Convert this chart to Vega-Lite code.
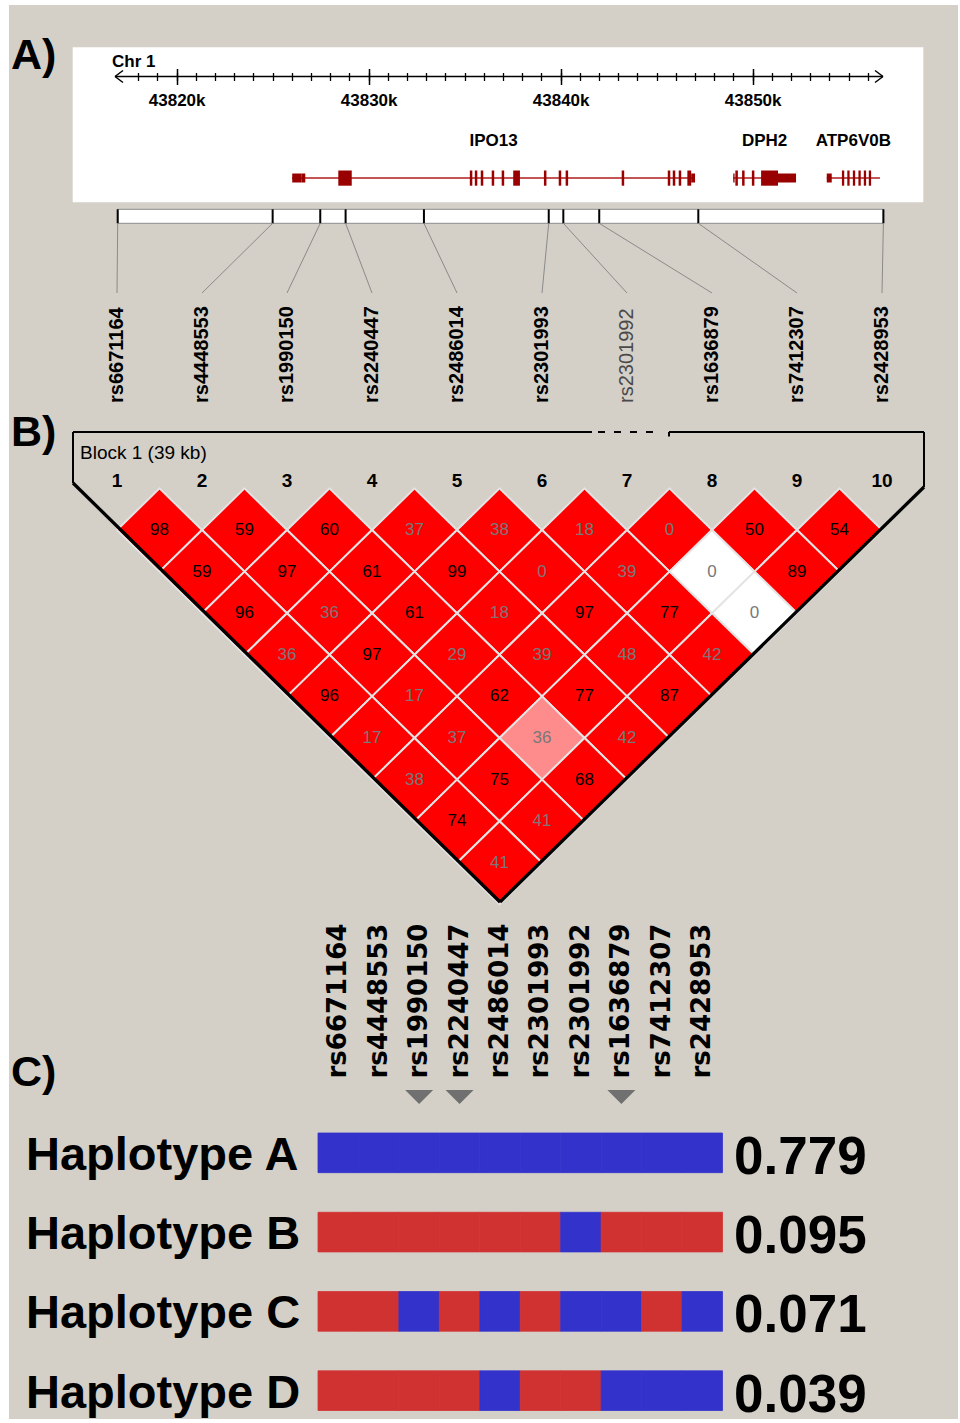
{
"$schema":"https://vega.github.io/schema/vega-lite/v6.json",
"width":960,"height":1423,"padding":0,"autosize":{"type":"none"},
"background":"#ffffff",
"config":{"view":{"stroke":null}},
"datasets":{
"snps":[
{"idx":1,"snp":"rs6671164","pos":43816.93,"status":"pass","tag":false},
{"idx":2,"snp":"rs4448553","pos":43825.00,"status":"pass","tag":false},
{"idx":3,"snp":"rs1990150","pos":43827.48,"status":"pass","tag":true},
{"idx":4,"snp":"rs2240447","pos":43828.80,"status":"pass","tag":true},
{"idx":5,"snp":"rs2486014","pos":43832.88,"status":"pass","tag":false},
{"idx":6,"snp":"rs2301993","pos":43839.38,"status":"pass","tag":false},
{"idx":7,"snp":"rs2301992","pos":43840.14,"status":"flag","tag":false},
{"idx":8,"snp":"rs1636879","pos":43842.01,"status":"pass","tag":true},
{"idx":9,"snp":"rs7412307","pos":43847.17,"status":"pass","tag":false},
{"idx":10,"snp":"rs2428953","pos":43856.81,"status":"pass","tag":false}],
"genes":[
{"gene":"IPO13","start":43826.01,"end":43847.00},
{"gene":"DPH2","start":43848.99,"end":43852.26},
{"gene":"ATP6V0B","start":43853.86,"end":43856.63}],
"genefeat":[
{"gene":"IPO13","part":"utr","start":43826.02,"end":43826.51},
{"gene":"IPO13","part":"utr","start":43826.51,"end":43826.70},
{"gene":"IPO13","part":"cds","start":43828.42,"end":43829.12},
{"gene":"IPO13","part":"cds","start":43835.27,"end":43835.40},
{"gene":"IPO13","part":"cds","start":43835.53,"end":43835.66},
{"gene":"IPO13","part":"cds","start":43835.84,"end":43835.97},
{"gene":"IPO13","part":"cds","start":43836.41,"end":43836.54},
{"gene":"IPO13","part":"cds","start":43836.93,"end":43837.06},
{"gene":"IPO13","part":"cds","start":43837.53,"end":43837.88},
{"gene":"IPO13","part":"cds","start":43839.13,"end":43839.26},
{"gene":"IPO13","part":"cds","start":43839.90,"end":43840.03},
{"gene":"IPO13","part":"cds","start":43840.26,"end":43840.39},
{"gene":"IPO13","part":"cds","start":43843.18,"end":43843.31},
{"gene":"IPO13","part":"cds","start":43845.58,"end":43845.71},
{"gene":"IPO13","part":"cds","start":43845.84,"end":43845.97},
{"gene":"IPO13","part":"cds","start":43846.15,"end":43846.28},
{"gene":"IPO13","part":"cds","start":43846.60,"end":43846.80},
{"gene":"IPO13","part":"utr","start":43846.80,"end":43847.00},
{"gene":"DPH2","part":"utr","start":43848.99,"end":43849.06},
{"gene":"DPH2","part":"cds","start":43849.10,"end":43849.23},
{"gene":"DPH2","part":"cds","start":43849.45,"end":43849.58},
{"gene":"DPH2","part":"cds","start":43849.96,"end":43850.09},
{"gene":"DPH2","part":"cds","start":43850.44,"end":43851.32},
{"gene":"DPH2","part":"utr","start":43851.32,"end":43852.26},
{"gene":"ATP6V0B","part":"utr","start":43853.86,"end":43854.12},
{"gene":"ATP6V0B","part":"cds","start":43854.65,"end":43854.77},
{"gene":"ATP6V0B","part":"cds","start":43854.93,"end":43855.05},
{"gene":"ATP6V0B","part":"cds","start":43855.22,"end":43855.34},
{"gene":"ATP6V0B","part":"cds","start":43855.51,"end":43855.63},
{"gene":"ATP6V0B","part":"cds","start":43855.79,"end":43855.91},
{"gene":"ATP6V0B","part":"cds","start":43856.05,"end":43856.17}],
"ld":[
{"i":1,"j":2,"dprime":98,"shade":"strong","sig":"high"},
{"i":2,"j":3,"dprime":59,"shade":"strong","sig":"high"},
{"i":3,"j":4,"dprime":60,"shade":"strong","sig":"high"},
{"i":4,"j":5,"dprime":37,"shade":"strong","sig":"low"},
{"i":5,"j":6,"dprime":38,"shade":"strong","sig":"low"},
{"i":6,"j":7,"dprime":18,"shade":"strong","sig":"low"},
{"i":7,"j":8,"dprime":0,"shade":"strong","sig":"low"},
{"i":8,"j":9,"dprime":50,"shade":"strong","sig":"high"},
{"i":9,"j":10,"dprime":54,"shade":"strong","sig":"high"},
{"i":1,"j":3,"dprime":59,"shade":"strong","sig":"high"},
{"i":2,"j":4,"dprime":97,"shade":"strong","sig":"high"},
{"i":3,"j":5,"dprime":61,"shade":"strong","sig":"high"},
{"i":4,"j":6,"dprime":99,"shade":"strong","sig":"high"},
{"i":5,"j":7,"dprime":0,"shade":"strong","sig":"low"},
{"i":6,"j":8,"dprime":39,"shade":"strong","sig":"low"},
{"i":7,"j":9,"dprime":0,"shade":"weak","sig":"low"},
{"i":8,"j":10,"dprime":89,"shade":"strong","sig":"high"},
{"i":1,"j":4,"dprime":96,"shade":"strong","sig":"high"},
{"i":2,"j":5,"dprime":36,"shade":"strong","sig":"low"},
{"i":3,"j":6,"dprime":61,"shade":"strong","sig":"high"},
{"i":4,"j":7,"dprime":18,"shade":"strong","sig":"low"},
{"i":5,"j":8,"dprime":97,"shade":"strong","sig":"high"},
{"i":6,"j":9,"dprime":77,"shade":"strong","sig":"high"},
{"i":7,"j":10,"dprime":0,"shade":"weak","sig":"low"},
{"i":1,"j":5,"dprime":36,"shade":"strong","sig":"low"},
{"i":2,"j":6,"dprime":97,"shade":"strong","sig":"high"},
{"i":3,"j":7,"dprime":29,"shade":"strong","sig":"low"},
{"i":4,"j":8,"dprime":39,"shade":"strong","sig":"low"},
{"i":5,"j":9,"dprime":48,"shade":"strong","sig":"low"},
{"i":6,"j":10,"dprime":42,"shade":"strong","sig":"low"},
{"i":1,"j":6,"dprime":96,"shade":"strong","sig":"high"},
{"i":2,"j":7,"dprime":17,"shade":"strong","sig":"low"},
{"i":3,"j":8,"dprime":62,"shade":"strong","sig":"high"},
{"i":4,"j":9,"dprime":77,"shade":"strong","sig":"high"},
{"i":5,"j":10,"dprime":87,"shade":"strong","sig":"high"},
{"i":1,"j":7,"dprime":17,"shade":"strong","sig":"low"},
{"i":2,"j":8,"dprime":37,"shade":"strong","sig":"low"},
{"i":3,"j":9,"dprime":36,"shade":"moderate","sig":"low"},
{"i":4,"j":10,"dprime":42,"shade":"strong","sig":"low"},
{"i":1,"j":8,"dprime":38,"shade":"strong","sig":"low"},
{"i":2,"j":9,"dprime":75,"shade":"strong","sig":"high"},
{"i":3,"j":10,"dprime":68,"shade":"strong","sig":"high"},
{"i":1,"j":9,"dprime":74,"shade":"strong","sig":"high"},
{"i":2,"j":10,"dprime":41,"shade":"strong","sig":"low"},
{"i":1,"j":10,"dprime":41,"shade":"strong","sig":"low"}],
"haps":[
{"hap":"A","k":1,"allele":"1"},{"hap":"A","k":2,"allele":"1"},{"hap":"A","k":3,"allele":"1"},{"hap":"A","k":4,"allele":"1"},{"hap":"A","k":5,"allele":"1"},{"hap":"A","k":6,"allele":"1"},{"hap":"A","k":7,"allele":"1"},{"hap":"A","k":8,"allele":"1"},{"hap":"A","k":9,"allele":"1"},{"hap":"A","k":10,"allele":"1"},
{"hap":"B","k":1,"allele":"2"},{"hap":"B","k":2,"allele":"2"},{"hap":"B","k":3,"allele":"2"},{"hap":"B","k":4,"allele":"2"},{"hap":"B","k":5,"allele":"2"},{"hap":"B","k":6,"allele":"2"},{"hap":"B","k":7,"allele":"1"},{"hap":"B","k":8,"allele":"2"},{"hap":"B","k":9,"allele":"2"},{"hap":"B","k":10,"allele":"2"},
{"hap":"C","k":1,"allele":"2"},{"hap":"C","k":2,"allele":"2"},{"hap":"C","k":3,"allele":"1"},{"hap":"C","k":4,"allele":"2"},{"hap":"C","k":5,"allele":"1"},{"hap":"C","k":6,"allele":"2"},{"hap":"C","k":7,"allele":"1"},{"hap":"C","k":8,"allele":"1"},{"hap":"C","k":9,"allele":"2"},{"hap":"C","k":10,"allele":"1"},
{"hap":"D","k":1,"allele":"2"},{"hap":"D","k":2,"allele":"2"},{"hap":"D","k":3,"allele":"2"},{"hap":"D","k":4,"allele":"2"},{"hap":"D","k":5,"allele":"1"},{"hap":"D","k":6,"allele":"2"},{"hap":"D","k":7,"allele":"2"},{"hap":"D","k":8,"allele":"1"},{"hap":"D","k":9,"allele":"1"},{"hap":"D","k":10,"allele":"1"}],
"hapinfo":[
{"hap":"A","label":"Haplotype A","freq":0.779},
{"hap":"B","label":"Haplotype B","freq":0.095},
{"hap":"C","label":"Haplotype C","freq":0.071},
{"hap":"D","label":"Haplotype D","freq":0.039}]
},
"resolve":{"scale":{"x":"independent","y":"independent","fill":"independent","color":"independent","stroke":"independent"}},
"layer":[
{"data":{"values":[{}]},
 "layer":[
  {"mark":{"type":"rect","fill":"#d4d0c8"},
   "encoding":{"x":{"datum":9,"type":"quantitative","scale":{"domain":[0,960],"nice":false,"zero":false},"axis":null},"x2":{"datum":958},
     "y":{"datum":5,"type":"quantitative","scale":{"domain":[0,1423],"nice":false,"zero":false,"reverse":true},"axis":null},"y2":{"datum":1419}}},
  {"mark":{"type":"rect","fill":"#ffffff"},
   "encoding":{"x":{"datum":72.7,"type":"quantitative","axis":null},"x2":{"datum":923.3},"y":{"datum":47.3,"type":"quantitative","axis":null},"y2":{"datum":202.3}}},
  {"mark":{"type":"text","text":"A)","font":"Liberation Sans","fontSize":43,"fontWeight":"bold","align":"left","baseline":"alphabetic","fill":"#000000"},
   "encoding":{"x":{"datum":11,"type":"quantitative","axis":null},"y":{"datum":68.5,"type":"quantitative","axis":null}}},
  {"mark":{"type":"text","text":"B)","font":"Liberation Sans","fontSize":43,"fontWeight":"bold","align":"left","baseline":"alphabetic","fill":"#000000"},
   "encoding":{"x":{"datum":11,"type":"quantitative","axis":null},"y":{"datum":446,"type":"quantitative","axis":null}}},
  {"mark":{"type":"text","text":"C)","font":"Liberation Sans","fontSize":43,"fontWeight":"bold","align":"left","baseline":"alphabetic","fill":"#000000"},
   "encoding":{"x":{"datum":11,"type":"quantitative","axis":null},"y":{"datum":1086,"type":"quantitative","axis":null}}},
  {"mark":{"type":"text","text":"Chr 1","font":"Liberation Sans","fontSize":17,"fontWeight":"bold","align":"left","baseline":"alphabetic","fill":"#000000"},
   "encoding":{"x":{"datum":112,"type":"quantitative","axis":null},"y":{"datum":66.7,"type":"quantitative","axis":null}}}
 ]},
{"data":{"name":"snps"},
 "mark":{"type":"point","opacity":0,"size":1},
 "encoding":{"x":{"field":"pos","type":"quantitative","scale":{"domain":[43810.8,43860.8],"nice":false,"zero":false},
   "axis":{"orient":"bottom","offset":-1346.5,"zindex":2,"values":[43818,43819,43820,43821,43822,43823,43824,43825,43826,43827,43828,43829,43830,43831,43832,43833,43834,43835,43836,43837,43838,43839,43840,43841,43842,43843,43844,43845,43846,43847,43848,43849,43850,43851,43852,43853,43854,43855,43856],"tickSize":4,"tickWidth":1.3,"tickColor":"#000000","labels":false,"domain":false,"grid":false,"title":null}},
  "y":{"datum":76.5,"type":"quantitative","scale":{"domain":[0,1423],"nice":false,"zero":false,"reverse":true},"axis":null}}},
{"data":{"name":"snps"},
 "mark":{"type":"point","opacity":0,"size":1},
 "encoding":{"x":{"field":"pos","type":"quantitative","scale":{"domain":[43810.8,43860.8],"nice":false,"zero":false},
   "axis":{"orient":"top","offset":-76.5,"zindex":2,"values":[43818,43819,43820,43821,43822,43823,43824,43825,43826,43827,43828,43829,43830,43831,43832,43833,43834,43835,43836,43837,43838,43839,43840,43841,43842,43843,43844,43845,43846,43847,43848,43849,43850,43851,43852,43853,43854,43855,43856],"tickSize":4,"tickWidth":1.3,"tickColor":"#000000","labels":false,"domain":false,"grid":false,"title":null}},
  "y":{"datum":76.5,"type":"quantitative","scale":{"domain":[0,1423],"nice":false,"zero":false,"reverse":true},"axis":null}}},
{"data":{"name":"snps"},
 "mark":{"type":"point","opacity":0,"size":1},
 "encoding":{"x":{"field":"pos","type":"quantitative","scale":{"domain":[43810.8,43860.8],"nice":false,"zero":false},
   "axis":{"orient":"bottom","offset":-1346.5,"zindex":2,"values":[43820,43830,43840,43850],"tickSize":8,"tickWidth":1.5,"tickColor":"#000000","labels":true,"labelExpr":"datum.value + 'k'","labelFont":"Liberation Sans","labelFontSize":17,"labelFontWeight":"bold","labelColor":"#000000","labelPadding":8,"labelFlush":false,"labelOverlap":false,"domain":false,"grid":false,"title":null}},
  "y":{"datum":76.5,"type":"quantitative","scale":{"domain":[0,1423],"nice":false,"zero":false,"reverse":true},"axis":null}}},
{"data":{"name":"snps"},
 "mark":{"type":"point","opacity":0,"size":1},
 "encoding":{"x":{"field":"pos","type":"quantitative","scale":{"domain":[43810.8,43860.8],"nice":false,"zero":false},
   "axis":{"orient":"top","offset":-76.5,"zindex":2,"values":[43820,43830,43840,43850],"tickSize":8,"tickWidth":1.5,"tickColor":"#000000","labels":false,"domain":false,"grid":false,"title":null}},
  "y":{"datum":76.5,"type":"quantitative","scale":{"domain":[0,1423],"nice":false,"zero":false,"reverse":true},"axis":null}}},
{"data":{"values":[{}]},
 "layer":[
  {"mark":{"type":"rule","stroke":"#000000","strokeWidth":1.5},
   "encoding":{"x":{"datum":43816.79,"type":"quantitative","scale":{"domain":[43810.8,43860.8],"nice":false,"zero":false},"axis":null},
    "x2":{"datum":43856.79},
    "y":{"datum":76.5,"type":"quantitative","scale":{"domain":[0,1423],"nice":false,"zero":false,"reverse":true},"axis":null}}},
  {"mark":{"type":"point","shape":"M0,0L1.33,-1M0,0L1.33,1","size":144,"filled":false,"stroke":"#000000","strokeWidth":1.5,"opacity":1},
   "encoding":{"x":{"datum":43816.79,"type":"quantitative","axis":null},"y":{"datum":76.5,"type":"quantitative","axis":null}}},
  {"mark":{"type":"point","shape":"M0,0L-1.33,-1M0,0L-1.33,1","size":144,"filled":false,"stroke":"#000000","strokeWidth":1.5,"opacity":1},
   "encoding":{"x":{"datum":43856.79,"type":"quantitative","axis":null},"y":{"datum":76.5,"type":"quantitative","axis":null}}}
 ]},
{"layer":[
  {"data":{"name":"genes"},"mark":{"type":"rule","stroke":"#b01c1c","strokeWidth":1.5},
   "encoding":{"x":{"field":"start","type":"quantitative","scale":{"domain":[43810.8,43860.8],"nice":false,"zero":false},"axis":null},"x2":{"field":"end"},
     "y":{"datum":178,"type":"quantitative","scale":{"domain":[0,1423],"nice":false,"zero":false,"reverse":true},"axis":null}}},
  {"data":{"name":"genes"},"transform":[{"calculate":"(datum.start + datum.end) / 2","as":"mid"}],
   "mark":{"type":"text","font":"Liberation Sans","fontSize":17,"fontWeight":"bold","align":"center","baseline":"alphabetic","fill":"#000000"},
   "encoding":{"x":{"field":"mid","type":"quantitative","axis":null},"y":{"datum":145.5,"type":"quantitative","axis":null},"text":{"field":"gene"}}},
  {"data":{"name":"genefeat"},"transform":[{"filter":"datum.part === 'cds'"}],"mark":{"type":"rect","fill":"#990000"},
   "encoding":{"x":{"field":"start","type":"quantitative","axis":null},"x2":{"field":"end"},"y":{"datum":170.5,"type":"quantitative","axis":null},"y2":{"datum":185.7}}},
  {"data":{"name":"genefeat"},"transform":[{"filter":"datum.part === 'utr'"}],"mark":{"type":"rect","fill":"#990000"},
   "encoding":{"x":{"field":"start","type":"quantitative","axis":null},"x2":{"field":"end"},"y":{"datum":173.5,"type":"quantitative","axis":null},"y2":{"datum":182.5}}},
  {"data":{"name":"snps"},"mark":{"type":"rect","fill":"#ffffff","stroke":"#8c8c8c","strokeWidth":1},
   "encoding":{"x":{"aggregate":"min","field":"pos","type":"quantitative","axis":null},"x2":{"aggregate":"max","field":"pos"},"y":{"datum":209.3,"type":"quantitative","axis":null},"y2":{"datum":223.3}}},
  {"data":{"name":"snps"},"mark":{"type":"rule","stroke":"#000000","strokeWidth":2},
   "encoding":{"x":{"field":"pos","type":"quantitative","axis":null},"y":{"datum":209.3,"type":"quantitative","axis":null},"y2":{"datum":223.3}}},
  {"data":{"name":"snps"},"transform":[{"calculate":"43810.8 + (117 + (datum.idx - 1) * 85) / 19.2","as":"lx"}],
   "mark":{"type":"rule","stroke":"#8a8a8a","strokeWidth":1},
   "encoding":{"x":{"field":"pos","type":"quantitative","axis":null},"x2":{"field":"lx"},"y":{"datum":223.3,"type":"quantitative","axis":null},"y2":{"datum":293}}}
 ]},
{"data":{"name":"snps"},
 "layer":[
  {"transform":[{"filter":"datum.status === 'pass'"}],
   "mark":{"type":"text","angle":270,"align":"left","baseline":"middle","font":"Liberation Sans","fontSize":20,"fontWeight":"bold","fill":"#000000"},
   "encoding":{"x":{"field":"idx","type":"quantitative","scale":{"domain":[-0.37647,10.91765],"nice":false,"zero":false},"axis":null},
     "y":{"datum":403,"type":"quantitative","scale":{"domain":[0,1423],"nice":false,"zero":false,"reverse":true},"axis":null},"text":{"field":"snp"}}},
  {"transform":[{"filter":"datum.status === 'flag'"}],
   "mark":{"type":"text","angle":270,"align":"left","baseline":"middle","font":"Liberation Sans","fontSize":20,"fontWeight":"normal","fill":"#4a4a4a"},
   "encoding":{"x":{"field":"idx","type":"quantitative","axis":null},"y":{"datum":403,"type":"quantitative","axis":null},"text":{"field":"snp"}}}
 ]},
{"layer":[
  {"data":{"name":"ld"},"transform":[{"calculate":"(datum.i + datum.j) / 2","as":"cx"},{"calculate":"datum.j - datum.i","as":"dist"}],
   "mark":{"type":"point","shape":"M-1,0L0,-0.979L1,0L0,0.979Z","size":7225,"filled":true,"opacity":1,"stroke":"#e4e4e4","strokeWidth":2},
   "encoding":{"x":{"field":"cx","type":"quantitative","scale":{"domain":[-0.37647,10.91765],"nice":false,"zero":false},"axis":null},
     "y":{"field":"dist","type":"quantitative","scale":{"domain":[-11.7404,22.4663],"nice":false,"zero":false,"reverse":true},"axis":null},
     "fill":{"field":"shade","type":"nominal","scale":{"domain":["strong","moderate","weak"],"range":["#ff0000","#ff8c8c","#ffffff"]},"legend":null}}},
  {"data":{"name":"ld"},"transform":[{"calculate":"(datum.i + datum.j) / 2","as":"cx"},{"calculate":"datum.j - datum.i","as":"dist"}],
   "mark":{"type":"text","font":"Liberation Sans","fontSize":17,"align":"center","baseline":"middle"},
   "encoding":{"x":{"field":"cx","type":"quantitative","axis":null},"y":{"field":"dist","type":"quantitative","axis":null},"text":{"field":"dprime"},
     "color":{"field":"sig","type":"nominal","scale":{"domain":["high","low"],"range":["#000000","#787878"]},"legend":null}}},
  {"data":{"name":"snps"},
   "mark":{"type":"text","font":"Liberation Sans","fontSize":19,"fontWeight":"bold","align":"center","baseline":"middle","fill":"#000000"},
   "encoding":{"x":{"field":"idx","type":"quantitative","axis":null},"y":{"datum":-0.1779,"type":"quantitative","axis":null},"text":{"field":"idx"}}},
  {"data":{"values":[{}]},
   "mark":{"type":"text","text":"Block 1 (39 kb)","font":"Liberation Sans","fontSize":19,"align":"left","baseline":"alphabetic","fill":"#000000"},
   "encoding":{"x":{"datum":0.5647,"type":"quantitative","axis":null},"y":{"datum":-0.6995,"type":"quantitative","axis":null}}},
  {"data":{"values":[{}]},"mark":{"type":"rule","stroke":"#000000","strokeWidth":2},
   "encoding":{"x":{"datum":0.4824,"type":"quantitative","axis":null},"x2":{"datum":6.5882},"y":{"datum":-1.3558,"type":"quantitative","axis":null}}},
  {"data":{"values":[{}]},"mark":{"type":"rule","stroke":"#000000","strokeWidth":2,"strokeDash":[7,9]},
   "encoding":{"x":{"datum":6.6588,"type":"quantitative","axis":null},"x2":{"datum":7.4118},"y":{"datum":-1.3558,"type":"quantitative","axis":null}}},
  {"data":{"values":[{}]},"mark":{"type":"rule","stroke":"#000000","strokeWidth":2},
   "encoding":{"x":{"datum":7.4941,"type":"quantitative","axis":null},"x2":{"datum":10.4941},"y":{"datum":-1.3558,"type":"quantitative","axis":null}}},
  {"data":{"values":[{}]},"mark":{"type":"rule","stroke":"#000000","strokeWidth":2},
   "encoding":{"x":{"datum":7.4941,"type":"quantitative","axis":null},"y":{"datum":-1.3558,"type":"quantitative","axis":null},"y2":{"datum":-1.2476}}},
  {"data":{"values":[{}]},"mark":{"type":"rule","stroke":"#000000","strokeWidth":2},
   "encoding":{"x":{"datum":0.4824,"type":"quantitative","axis":null},"y":{"datum":-1.3558,"type":"quantitative","axis":null},"y2":{"datum":-0.1298}}},
  {"data":{"values":[{}]},"mark":{"type":"rule","stroke":"#000000","strokeWidth":2},
   "encoding":{"x":{"datum":10.4941,"type":"quantitative","axis":null},"y":{"datum":-1.3558,"type":"quantitative","axis":null},"y2":{"datum":-0.0337}}},
  {"data":{"values":[{}]},"mark":{"type":"rule","stroke":"#000000","strokeWidth":3.3},
   "encoding":{"x":{"datum":0.4824,"type":"quantitative","axis":null},"x2":{"datum":5.5059},"y":{"datum":-0.1298,"type":"quantitative","axis":null},"y2":{"datum":9.9423}}},
  {"data":{"values":[{}]},"mark":{"type":"rule","stroke":"#000000","strokeWidth":3.3},
   "encoding":{"x":{"datum":10.4941,"type":"quantitative","axis":null},"x2":{"datum":5.5059},"y":{"datum":-0.0337,"type":"quantitative","axis":null},"y2":{"datum":9.9423}}}
 ]},
{"data":{"name":"haps"},
 "mark":{"type":"rect","strokeWidth":0.8},
 "encoding":{"x":{"field":"k","type":"ordinal","scale":{"type":"band","domain":[1,2,3,4,5,6,7,8,9,10],"range":[318,722.5],"paddingInner":0,"paddingOuter":0},"axis":null},
   "y":{"field":"hap","type":"nominal","scale":{"type":"band","domain":["A","B","C","D"],"range":[1133,1410.5],"paddingInner":0.5,"paddingOuter":0},"axis":null},
   "fill":{"field":"allele","type":"nominal","scale":{"domain":["1","2"],"range":["#3333cc","#d03232"]},"legend":null},
   "stroke":{"field":"allele","type":"nominal","scale":{"domain":["1","2"],"range":["#3333cc","#d03232"]},"legend":null}}},
{"data":{"name":"hapinfo"},
 "layer":[
  {"mark":{"type":"text","align":"left","baseline":"middle","dy":3,"font":"Liberation Sans","fontSize":47,"fontWeight":"bold","fill":"#000000"},
   "encoding":{"x":{"datum":26,"type":"quantitative","scale":{"domain":[0,960],"nice":false,"zero":false},"axis":null},
     "y":{"field":"hap","type":"nominal","scale":{"type":"band","domain":["A","B","C","D"],"range":[1133,1410.5],"paddingInner":0.5,"paddingOuter":0},"axis":null},
     "text":{"field":"label"}}},
  {"mark":{"type":"text","align":"left","baseline":"middle","dy":5,"font":"Liberation Sans","fontSize":53,"fontWeight":"bold","fill":"#000000"},
   "encoding":{"x":{"datum":734,"type":"quantitative","axis":null},"y":{"field":"hap","type":"nominal","axis":null},
     "text":{"field":"freq","type":"quantitative","format":".3f"}}}
 ]},
{"data":{"name":"snps"},
 "layer":[
  {"mark":{"type":"text","angle":270,"align":"left","baseline":"middle","font":"DejaVu Sans","fontSize":26,"fontWeight":"bold","fill":"#000000"},
   "encoding":{"x":{"field":"idx","type":"ordinal","scale":{"type":"band","domain":[1,2,3,4,5,6,7,8,9,10],"range":[318,722.5],"paddingInner":0,"paddingOuter":0},"axis":null},
     "y":{"datum":1078.5,"type":"quantitative","scale":{"domain":[0,1423],"nice":false,"zero":false,"reverse":true},"axis":null},"text":{"field":"snp"}}},
  {"transform":[{"filter":"datum.tag"}],
   "mark":{"type":"point","shape":"M-1,-0.5L1,-0.5L0,0.5Z","size":784,"filled":true,"fill":"#707070","opacity":1,"strokeWidth":0},
   "encoding":{"x":{"field":"idx","type":"ordinal","axis":null},"y":{"datum":1097,"type":"quantitative","axis":null}}}
 ]}
]
}
